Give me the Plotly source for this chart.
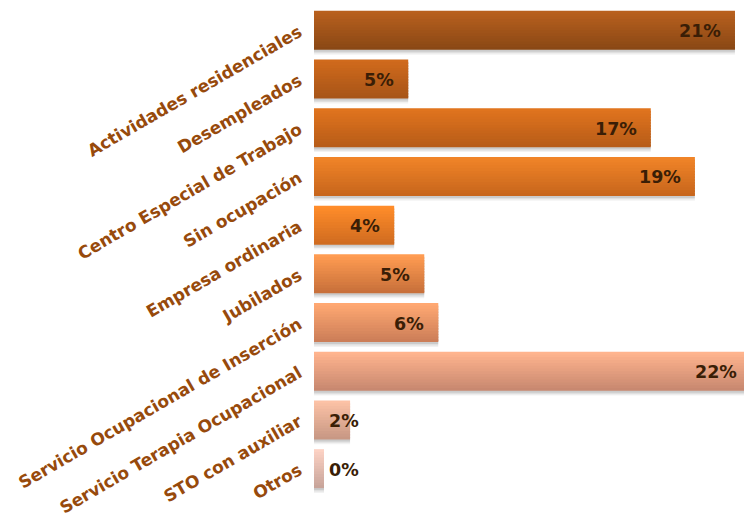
import plotly.graph_objects as go

categories = ["Actividades residenciales", "Desempleados", "Centro Especial de Trabajo",
              "Sin ocupación", "Empresa ordinaria", "Jubilados",
              "Servicio Ocupacional de Inserción", "Servicio Terapia Ocupacional",
              "STO con auxiliar", "Otros"]
values = [21.0, 4.7, 16.8, 19.0, 4.0, 5.5, 6.2, 21.8, 1.8, 0.5]
labels = ["21%", "5%", "17%", "19%", "4%", "5%", "6%", "22%", "2%", "0%"]

top_colors = ["#B8601E", "#D06A1C", "#E0741E", "#F08428", "#FF8C2A",
              "#FF9C52", "#FFA872", "#FFB48E", "#FCC2A6", "#FCD2C4"]
bot_colors = ["#8A4815", "#A85518", "#B85C18", "#C8661C", "#D06C20",
              "#C8703A", "#CC7E58", "#C88870", "#C89884", "#C8A49A"]

XMAX = 21.45
PLOT_W = 430


def hex2rgb(h):
    h = h.lstrip("#")
    return [int(h[i:i + 2], 16) for i in (0, 2, 4)]


def mix(a, b, t):
    ca, cb = hex2rgb(a), hex2rgb(b)
    return "rgb(%d,%d,%d)" % tuple(round(ca[i] + (cb[i] - ca[i]) * t) for i in range(3))


fig = go.Figure()

BW = 0.8
# soft shadow
for s, alpha in [(0.10, 0.05), (0.07, 0.07), (0.04, 0.09)]:
    fig.add_trace(go.Bar(y=categories, x=values, orientation="h",
                         width=BW, offset=-BW / 2 + s,
                         marker=dict(color="rgba(0,0,0,%.2f)" % alpha, line=dict(width=0)),
                         hoverinfo="skip", showlegend=False))

N = 14
w = BW / N
for k in range(N):
    t = k / (N - 1)
    cols = [mix(a, b, t) for a, b in zip(top_colors, bot_colors)]
    fig.add_trace(go.Bar(y=categories, x=values, orientation="h",
                         width=w * (1.6 if k < N - 1 else 1.0), offset=-BW / 2 + k * w,
                         marker=dict(color=cols, line=dict(width=0)),
                         hoverinfo="skip", showlegend=False))

annotations = []
for c, v, lab in zip(categories, values, labels):
    xv = max(v, 2.95)
    shift = -12
    if xv > XMAX:
        shift += (xv - XMAX) * PLOT_W / XMAX
        xv = XMAX
    annotations.append(dict(x=xv, y=c, xref="x", yref="y", text="<b>%s</b>" % lab,
                            showarrow=False, xanchor="right", xshift=shift, yshift=-1,
                            font=dict(family="DejaVu Sans", size=17.5, color="#3A1E06")))

fig.update_layout(
    width=744, height=517,
    margin=dict(l=314, r=0, t=6, b=22),
    paper_bgcolor="white", plot_bgcolor="white",
    barmode="overlay", bargap=0.2,
    showlegend=False,
    annotations=annotations,
    xaxis=dict(range=[0, XMAX], visible=False, fixedrange=True),
    yaxis=dict(autorange="reversed", tickangle=-30, showgrid=False, zeroline=False,
               ticks="", ticklen=0, showline=False, ticklabelstandoff=14,
               tickfont=dict(family="DejaVu Sans", size=17, color="#974A0C", weight="bold")),
)

fig.write_html("out.html", config={"displayModeBar": False},
               post_script="document.body.style.margin='0';")
